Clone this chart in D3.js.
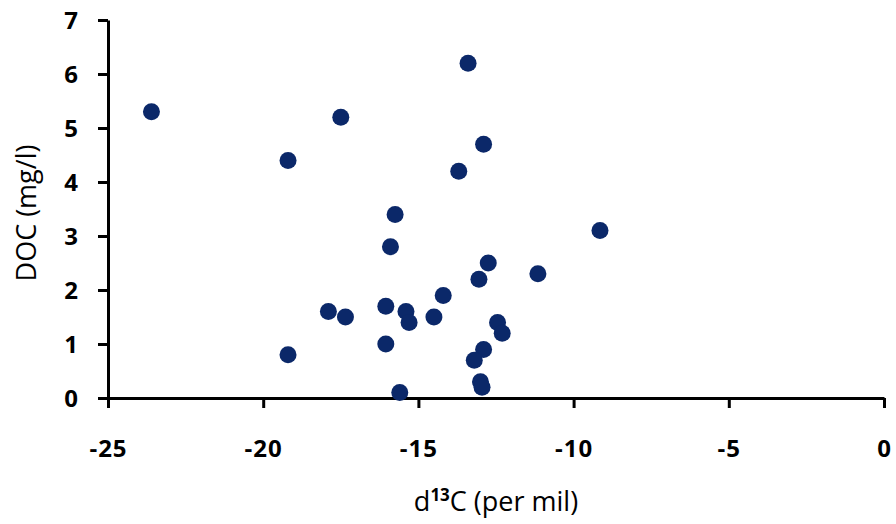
<!DOCTYPE html>
<html>
<head>
<meta charset="utf-8">
<script src="https://cdn.jsdelivr.net/npm/d3@7"></script>
<style>
  body { margin: 0; background: #fff; }
  text { font-family: "Open Sans", sans-serif; fill: #000; }
</style>
</head>
<body>
<svg id="chart" width="896" height="524"></svg>
<script>
// d13C (per mil) vs DOC (mg/l)
let d13c = [-23.6, -19.2, -19.2, -13.4, -17.5, -12.9, -13.7, -15.75, -15.9, -9.15,
            -12.75, -13.05, -11.15, -14.2, -17.9, -17.35, -16.05, -15.4, -15.3, -14.5,
            -12.45, -12.3, -16.05, -12.9, -13.2, -13.0, -12.95, -15.6];
let doc = [5.3, 4.4, 0.8, 6.2, 5.2, 4.7, 4.2, 3.4, 2.8, 3.1,
           2.5, 2.2, 2.3, 1.9, 1.6, 1.5, 1.7, 1.6, 1.4, 1.5,
           1.4, 1.2, 1.0, 0.9, 0.7, 0.3, 0.2, 0.1];
let xTicks = [-25, -20, -15, -10, -5, 0];
let yTicks = [0, 1, 2, 3, 4, 5, 6, 7];

let margin = {top: 20, right: 12, bottom: 126, left: 108};
let width = 896 - margin.left - margin.right;
let height = 524 - margin.top - margin.bottom;

let svg = d3.select("#chart");
let g = svg.append("g").attr("transform", `translate(${margin.left},${margin.top})`);

let x = d3.scaleLinear().domain([-25, 0]).range([0, width]);
let y = d3.scaleLinear().domain([0, 7]).range([height, 0]);

// plain hyphen, like the original labels
let fmt = d => String(d);

let xAxis = g.append("g")
  .attr("transform", `translate(0,${height})`)
  .call(d3.axisBottom(x).tickValues(xTicks).tickSize(10).tickSizeOuter(0).tickFormat(fmt));
xAxis.selectAll("text")
  .attr("dy", null).attr("y", 59)
  .style("font-size", "24px").style("font-weight", 700).style("letter-spacing", "1px");

let yAxis = g.append("g")
  .call(d3.axisLeft(y).tickValues(yTicks).tickSize(10).tickSizeOuter(0).tickPadding(20).tickFormat(fmt));
yAxis.selectAll("text")
  .attr("dy", "0.36em")
  .style("font-size", "24px").style("font-weight", 700);

[xAxis, yAxis].forEach(function(a){
  a.select(".domain").attr("stroke", "#000").attr("stroke-width", 3);
  a.selectAll(".tick line").attr("stroke", "#000").attr("stroke-width", 3);
});

let points = d3.zip(d13c, doc);
g.selectAll("circle.pt")
  .data(points)
  .enter().append("circle")
  .attr("class", "pt")
  .attr("cx", d => x(d[0]))
  .attr("cy", d => y(d[1]))
  .attr("r", 8.5)
  .attr("fill", "#0b2869");

// axis titles
let xt = svg.append("text")
  .attr("x", margin.left + width / 2)
  .attr("y", 511)
  .attr("text-anchor", "middle")
  .style("font-size", "27px").style("font-weight", 500);
xt.append("tspan").text("d");
xt.append("tspan").attr("dy", -10).style("font-size", "17px").style("font-weight", 700).text("13");
xt.append("tspan").attr("dy", 10).text("C (per mil)");

svg.append("text")
  .attr("transform", `translate(36,${margin.top + height / 2 + 4}) rotate(-90)`)
  .attr("text-anchor", "middle")
  .style("font-size", "27px").style("font-weight", 500)
  .text("DOC (mg/l)");
</script>
</body>
</html>
